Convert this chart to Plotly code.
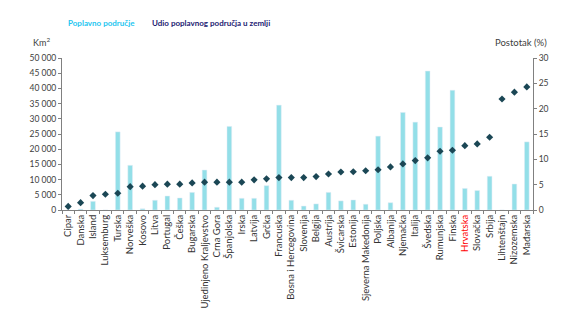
import plotly.graph_objects as go

countries = ["Cipar", "Danska", "Island", "Luksemburg", "Turska", "Norveška", "Kosovo", "Litva",
             "Portugal", "Češka", "Bugarska", "Ujedinjeno Kraljevstvo", "Crna Gora", "Španjolska",
             "Irska", "Latvija", "Grčka", "Francuska", "Bosna i Hercegovina", "Slovenija", "Belgija",
             "Austrija", "Švicarska", "Estonija", "Sjeverna Makedonija", "Poljska", "Albanija",
             "Njemačka", "Italija", "Švedska", "Rumunjska", "Finska", "Hrvatska", "Slovačka",
             "Srbija", "Lihtenštajn", "Nizozemska", "Mađarska"]

area_km2 = [0, 300, 2850, 0, 25700, 14700, 400, 3200,
            4600, 3950, 5800, 13150, 900, 27500,
            3850, 3850, 8000, 34500, 3200, 1300, 2000,
            5800, 3000, 3300, 1900, 24300, 2400,
            32100, 28900, 45700, 27300, 39400, 7100, 6400,
            11100, 0, 8550, 22400]

share_pct = [0.7, 1.45, 2.85, 3.1, 3.3, 4.6, 4.7, 5.0,
             5.1, 5.1, 5.35, 5.5, 5.5, 5.5,
             5.5, 5.95, 6.15, 6.4, 6.4, 6.4, 6.6,
             7.1, 7.5, 7.55, 7.75, 7.95, 8.5,
             9.1, 9.75, 10.3, 11.6, 11.8, 12.7, 13.05,
             14.35, 21.9, 23.25, 24.3]

highlight = "Hrvatska"
tick_text = [f"<span style='color:#ff0000'>{c}</span>" if c == highlight else c for c in countries]

bar_color = "#93dfe8"
dot_color = "#1b4755"
font_family = "Lato, Liberation Sans, Arial, sans-serif"

fig = go.Figure()
fig.add_trace(go.Bar(x=countries, y=area_km2, marker_color=bar_color, name="Poplavno područje",
                     yaxis="y"))
fig.add_trace(go.Scatter(x=countries, y=share_pct, mode="markers", yaxis="y2",
                         marker=dict(symbol="diamond", size=5.5, color=dot_color),
                         name="Udio poplavnog područja u zemlji"))

fig.update_layout(
    width=574, height=332,
    margin=dict(l=62, r=41, t=58, b=122),
    paper_bgcolor="white", plot_bgcolor="white",
    showlegend=False,
    bargap=0.62,
    separators=", ",
    font=dict(family=font_family, size=9, color="#404040"),
    xaxis=dict(
        type="category", range=[-0.5, len(countries) - 0.5],
        tickmode="array", tickvals=countries, ticktext=tick_text,
        tickangle=-90, tickfont=dict(size=9.5, color="#333333"),
        showline=True, linecolor="#808080", linewidth=1,
        ticks="outside", ticklen=3, tickcolor="#808080", tickson="boundaries",
        showgrid=False,
    ),
    yaxis=dict(
        range=[0, 50000], tickvals=list(range(0, 50001, 5000)), tickformat=",d",
        showline=True, linecolor="#808080", linewidth=1,
        ticks="outside", ticklen=3, tickcolor="#808080",
        showgrid=False, zeroline=False, tickfont=dict(size=8.5, color="#404040"),
    ),
    yaxis2=dict(
        range=[0, 30], tickvals=list(range(0, 31, 5)), overlaying="y", side="right",
        showline=True, linecolor="#808080", linewidth=1,
        ticks="outside", ticklen=3, tickcolor="#808080",
        showgrid=False, zeroline=False, tickfont=dict(size=8.5, color="#404040"),
    ),
    annotations=[
        dict(text="<b>Poplavno područje</b>", x=(66 - 62) / 471, y=1.276, xref="paper",
             yref="paper", xanchor="left", showarrow=False, font=dict(size=8, color="#1ec6f0")),
        dict(text="<b>Udio poplavnog područja u zemlji</b>", x=(150 - 62) / 471, y=1.276,
             xref="paper", yref="paper", xanchor="left", showarrow=False,
             font=dict(size=8, color="#1c1a72")),
        dict(text="Km<sup>2</sup>", x=(31 - 62) / 471, y=1.053, xref="paper", yref="paper",
             xanchor="left", yanchor="bottom", showarrow=False,
             font=dict(size=9, color="#404040")),
        dict(text="Postotak (%)", x=(493 - 62) / 471, y=1.053, xref="paper", yref="paper",
             xanchor="left", yanchor="bottom", showarrow=False,
             font=dict(size=9.5, color="#404040")),
    ],
)

fig.write_html("out.html")
